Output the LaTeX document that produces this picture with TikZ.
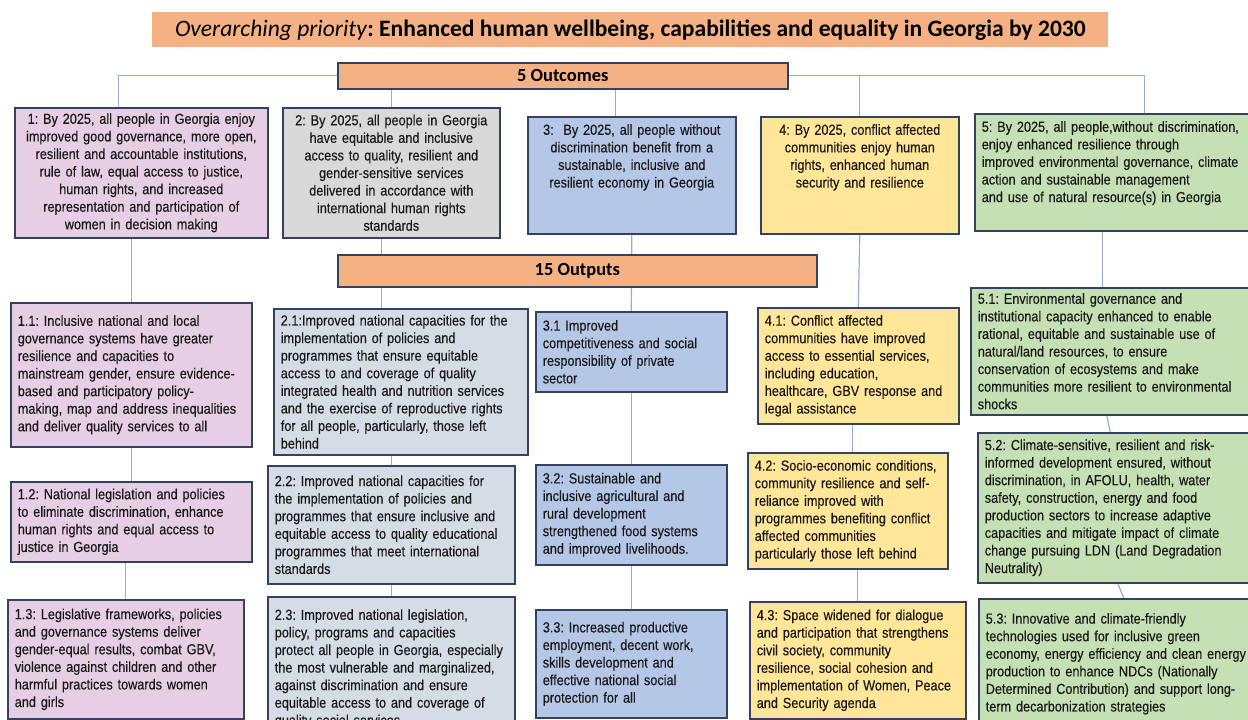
\documentclass[tikz,border=0pt]{standalone}
\usepackage{fontspec}
\usetikzlibrary{backgrounds}
\setmainfont{Liberation Sans}
\newfontfamily\boxfont[FakeStretch=0.87, FakeBold=0.3]{Liberation Sans}
\newfontfamily\headfont{Carlito}
\definecolor{boxline}{RGB}{52,66,98}
\definecolor{linkline}{RGB}{150,172,212}
\definecolor{salmon}{RGB}{244,177,131}
\definecolor{pinkfill}{RGB}{230,206,228}
\definecolor{greyfill}{RGB}{217,217,217}
\definecolor{slatefill}{RGB}{214,220,229}
\definecolor{bluefill}{RGB}{180,199,231}
\definecolor{yellowfill}{RGB}{255,230,153}
\definecolor{greenfill}{RGB}{197,224,180}
\frenchspacing
\hyphenpenalty=10000

\begin{document}
\begin{tikzpicture}[x=0.2mm, y=-0.2mm,
  ocbox/.style={draw=boxline, line width=0.9pt, anchor=north west,
    inner xsep=1.4mm, inner ysep=1mm, text=black!90, align=center,
    font=\boxfont\fontsize{8.3}{10}\selectfont},
  opbox/.style={ocbox, align=left},
  headbox/.style={draw=boxline, line width=0.9pt, fill=salmon, anchor=north west,
    font=\headfont\bfseries\fontsize{10.5}{12}\selectfont},
  link/.style={draw=linkline, line width=0.7pt}]
\path[use as bounding box] (0,0) rectangle (1248,720);

\node[fill=salmon, anchor=north west, minimum width=191.2mm, minimum height=7mm,
  font=\headfont\fontsize{13.4}{15}\selectfont] (prio) at (152,12)
  {\textit{Overarching priority}\textbf{: Enhanced human wellbeing, capabilities and equality in Georgia by 2030}};
\node[headbox, minimum width=90mm, minimum height=5.2mm] (outcomes) at (337,62) {5 Outcomes};
\node[headbox, minimum width=95.8mm, minimum height=6.4mm] (outputs) at (337,254) {15 Outputs};

% outcomes
\node[ocbox, fill=pinkfill, text width=47.8mm, minimum height=26mm] (oc1) at (14,107)
  {1: By 2025, all people in Georgia enjoy\\
   improved good governance, more open,\\
   resilient and accountable institutions,\\
   rule of law, equal access to justice,\\
   human rights, and increased\\
   representation and participation of\\
   women in decision making};
\node[ocbox, fill=greyfill, text width=40.6mm, minimum height=26mm] (oc2) at (282,107)
  {2: By 2025, all people in Georgia\\
   have equitable and inclusive\\
   access to quality, resilient and\\
   gender-sensitive services\\
   delivered in accordance with\\
   international human rights\\
   standards};
\node[ocbox, fill=bluefill, text width=38.8mm, text height=2.6mm, text depth=18.8mm] (oc3) at (527,116)
  {3:\ \ By 2025, all people without\\
   discrimination benefit from a\\
   sustainable, inclusive and\\
   resilient economy in Georgia};
\node[ocbox, fill=yellowfill, text width=36.8mm, text height=2.6mm, text depth=18.8mm] (oc4) at (760,116)
  {4: By 2025, conflict affected\\
   communities enjoy human\\
   rights, enhanced human\\
   security and resilience};
\node[opbox, fill=greenfill, text width=54.8mm, text height=2.6mm, text depth=18.8mm] (oc5) at (974,113)
  {5: By 2025, all people,without discrimination,\\
   enjoy enhanced resilience through\\
   improved environmental governance, climate\\
   action and sustainable management\\
   and use of natural resource(s) in Georgia};

% outputs 1
\node[opbox, fill=pinkfill, text width=45.4mm, minimum height=28.8mm] (op11) at (10,302)
  {1.1: Inclusive national and local\\
   governance systems have greater\\
   resilience and capacities to\\
   mainstream gender, ensure evidence-\\
   based and participatory policy-\\
   making, map and address inequalities\\
   and deliver quality services to all};
\node[opbox, fill=pinkfill, text width=45.4mm, minimum height=16mm] (op12) at (10,481)
  {1.2: National legislation and policies\\
   to eliminate discrimination, enhance\\
   human rights and equal access to\\
   justice in Georgia};
\node[opbox, fill=pinkfill, text width=44.4mm, minimum height=23.8mm] (op13) at (7,599)
  {1.3: Legislative frameworks, policies\\
   and governance systems deliver\\
   gender-equal results, combat GBV,\\
   violence against children and other\\
   harmful practices towards women\\
   and girls};

% outputs 2
\node[opbox, fill=slatefill, text width=48mm, minimum height=29.2mm] (op21) at (273,308)
  {2.1:Improved national capacities for the\\
   implementation of policies and\\
   programmes that ensure equitable\\
   access to and coverage of quality\\
   integrated health and nutrition services\\
   and the exercise of reproductive rights\\
   for all people, particularly, those left\\
   behind};
\node[opbox, fill=slatefill, text width=46.6mm, minimum height=23.6mm] (op22) at (267,465)
  {2.2: Improved national capacities for\\
   the implementation of policies and\\
   programmes that ensure inclusive and\\
   equitable access to quality educational\\
   programmes that meet international\\
   standards};
\node[opbox, fill=slatefill, text width=46.6mm, minimum height=28.8mm] (op23) at (267,596)
  {2.3: Improved national legislation,\\
   policy, programs and capacities\\
   protect all people in Georgia, especially\\
   the most vulnerable and marginalized,\\
   against discrimination and ensure\\
   equitable access to and coverage of\\
   quality social services};

% outputs 3
\node[opbox, fill=bluefill, text width=35.4mm, minimum height=16mm] (op31) at (535,311)
  {3.1 Improved\\
   competitiveness and social\\
   responsibility of private\\
   sector};
\node[opbox, fill=bluefill, text width=35.4mm, minimum height=20mm] (op32) at (535,464)
  {3.2: Sustainable and\\
   inclusive agricultural and\\
   rural development\\
   strengthened food systems\\
   and improved livelihoods.};
\node[opbox, fill=bluefill, text width=35.4mm, minimum height=21.6mm] (op33) at (535,609)
  {3.3: Increased productive\\
   employment, decent work,\\
   skills development and\\
   effective national social\\
   protection for all};

% outputs 4
\node[opbox, fill=yellowfill, text width=37.4mm, minimum height=23.2mm] (op41) at (757,307)
  {4.1: Conflict affected\\
   communities have improved\\
   access to essential services,\\
   including education,\\
   healthcare, GBV response and\\
   legal assistance};
\node[opbox, fill=yellowfill, text width=37.2mm, minimum height=23.2mm] (op42) at (747,452)
  {4.2: Socio-economic conditions,\\
   community resilience and self-\\
   reliance improved with\\
   programmes benefiting conflict\\
   affected communities\\
   particularly those left behind};
\node[opbox, fill=yellowfill, text width=40.4mm, minimum height=23.4mm] (op43) at (749,601)
  {4.3: Space widened for dialogue\\
   and participation that strengthens\\
   civil society, community\\
   resilience, social cohesion and\\
   implementation of Women, Peace\\
   and Security agenda};

% outputs 5
\node[opbox, fill=greenfill, text width=55.6mm, minimum height=25.4mm] (op51) at (970,287)
  {5.1: Environmental governance and\\
   institutional capacity enhanced to enable\\
   rational, equitable and sustainable use of\\
   natural/land resources, to ensure\\
   conservation of ecosystems and make\\
   communities more resilient to environmental\\
   shocks};
\node[opbox, fill=greenfill, text width=54.2mm, minimum height=30mm] (op52) at (977,432)
  {5.2: Climate-sensitive, resilient and risk-\\
   informed development ensured, without\\
   discrimination, in AFOLU, health, water\\
   safety, construction, energy and food\\
   production sectors to increase adaptive\\
   capacities and mitigate impact of climate\\
   change pursuing LDN (Land Degradation\\
   Neutrality)};
\node[opbox, fill=greenfill, text width=54mm, minimum height=26mm] (op53) at (978,598)
  {5.3: Innovative and climate-friendly\\
   technologies used for inclusive green\\
   economy, energy efficiency and clean energy\\
   production to enhance NDCs (Nationally\\
   Determined Contribution) and support long-\\
   term decarbonization strategies};

\begin{scope}[on background layer]
\draw[link] ([xshift=-4.5mm]oc1.north) |- (outcomes.west);
\draw[link] (outcomes.east) -| ([xshift=5.2mm]oc5.north);
\draw[link] (oc4.north) -- (oc4.north |- outcomes.east);
\draw[link] (oc2.north) -- (oc2.north |- outcomes.south);
\draw[link] ([xshift=-3.2mm]oc3.north) -- ([xshift=-3.2mm]oc3.north |- outcomes.south);
\draw[link] (op11.north) -- (op11.north |- oc1.south);
\draw[link] ([xshift=-2mm]oc2.south) -- ([xshift=-2mm]oc2.south |- op21.north);
\draw[link] (oc3.south) -- (op31.north);
\draw[link] (oc4.south) -- (op41.north);
\draw[link] ([xshift=-3.2mm]oc5.south) -- ([xshift=-3.2mm]oc5.south |- op51.north);
% down the columns
\draw[link] (op11.south) -- (op12.north);
\draw[link] (op13.north) -- (op13.north |- op12.south);
\draw[link] (op22.north) -- (op22.north |- op21.south);
\draw[link] (op22.south) -- (op23.north);
\draw[link] (op31.south) -- (op32.north);
\draw[link] (op32.south) -- (op33.north);
\draw[link] ([xshift=-1.1mm]op41.south) -- ([xshift=-1.1mm]op41.south |- op42.north);
\draw[link] (op43.north) -- (op43.north |- op42.south);
\draw[link] ([xshift=-2mm]op51.south) -- ([xshift=-2mm]op52.north);
\draw[link] ([xshift=-0.5mm]op52.south) -- ([xshift=0.6mm]op53.north);
\end{scope}
\end{tikzpicture}
\end{document}
